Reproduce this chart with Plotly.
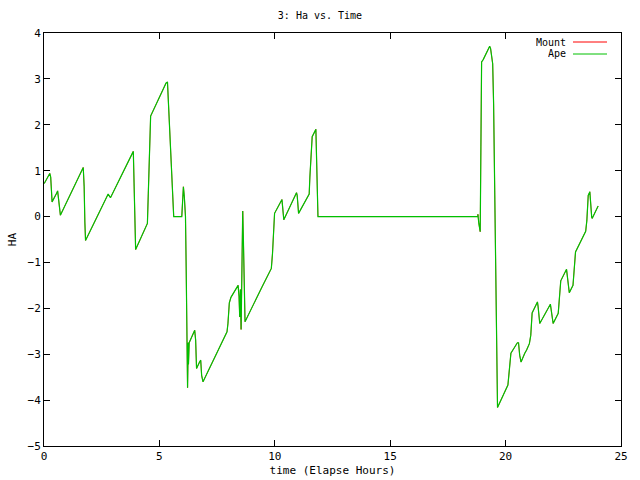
import plotly.graph_objects as go

time_hours = [0.01, 0.25, 0.29, 0.32, 0.35, 0.54, 0.59, 0.62, 0.68, 0.71, 1.70, 1.74, 1.77, 1.80,
              2.78, 2.88, 3.87, 3.90, 3.94, 3.97, 4.48, 4.52, 4.58, 4.62, 5.29, 5.35, 5.41, 5.46,
              5.52, 5.58, 5.62, 5.97, 6.01, 6.04, 6.08, 6.13, 6.16, 6.19, 6.22, 6.25, 6.26, 6.29,
              6.53, 6.57, 6.61, 6.74, 6.79, 6.83, 6.89, 7.93, 7.97, 8.03, 8.10, 8.41, 8.45, 8.48,
              8.51, 8.54, 8.58, 8.61, 8.64, 8.68, 8.71, 9.45, 9.85, 9.90, 9.96, 9.99, 10.31, 10.39,
              10.94, 10.97, 11.03, 11.49, 11.52, 11.58, 11.62, 11.78, 11.81, 11.84, 11.87, 18.80,
              18.80, 18.84, 18.87, 18.90, 18.93, 18.96, 19.03, 19.31, 19.35, 19.44, 19.48, 19.52,
              19.57, 19.61, 19.65, 20.10, 20.14, 20.19, 20.23, 20.51, 20.56, 20.61, 20.67, 20.83,
              20.91, 21.03, 21.09, 21.15, 21.38, 21.41, 21.48, 21.94, 21.98, 22.06, 22.28, 22.35,
              22.39, 22.64, 22.71, 22.76, 22.92, 22.94, 22.99, 23.03, 23.47, 23.52, 23.58, 23.65,
              23.73, 23.75, 24.01]

ha_ape = [0.72, 0.94, 0.86, 0.50, 0.32, 0.50, 0.56, 0.43, 0.15, 0.03, 1.07, 0.65, -0.12, -0.52,
          0.49, 0.41, 1.42, 0.86, -0.19, -0.72, -0.15, 0.46, 1.59, 2.19, 2.91, 2.93, 2.28, 1.70,
          0.90, 0.36, 0.00, 0.00, 0.46, 0.65, 0.43, 0.00, -1.10, -2.84, -3.73, -2.75, -3.22, -2.75,
          -2.48, -2.69, -3.31, -3.17, -3.13, -3.46, -3.60, -2.51, -2.33, -1.88, -1.76, -1.50, -1.74, -2.19,
          -1.59, -2.46, -0.53, 0.12, -0.52, -1.71, -2.29, -1.53, -1.13, -0.81, -0.26, 0.07, 0.37, -0.07,
          0.52, 0.46, 0.07, 0.49, 0.86, 1.43, 1.74, 1.90, 1.43, 0.46, 0.00, 0.00,
          0.05, -0.15, -0.23, -0.33, 1.52, 3.37, 3.42, 3.71, 3.66, 3.33, 2.46, 0.86,
          -1.02, -3.09, -4.16, -3.67, -3.49, -3.20, -2.98, -2.75, -2.75, -3.02, -3.17, -2.98,
          -2.91, -2.77, -2.59, -2.10, -1.86, -1.97, -2.33, -1.91, -2.04, -2.33, -2.11, -1.60,
          -1.40, -1.15, -1.53, -1.66, -1.50, -1.33, -0.97, -0.77, -0.32, -0.09, 0.46, 0.54,
          -0.01, -0.04, 0.23]

# Mount track coincides with Ape track (drawn underneath)
ha_mount = list(ha_ape)

x_ticks = [0, 5, 10, 15, 20, 25]
y_ticks = [-5, -4, -3, -2, -1, 0, 1, 2, 3, 4]

FONT = "DejaVu Sans Mono"
RED = "#ff0000"
GREEN = "#00c000"

fig = go.Figure()
fig.add_trace(go.Scatter(x=time_hours, y=ha_mount, mode="lines", name="Mount",
                         line=dict(color=RED, width=0.7), showlegend=False))
fig.add_trace(go.Scatter(x=time_hours, y=ha_ape, mode="lines", name="Ape",
                         line=dict(color=GREEN, width=1.2), showlegend=False))

axis_common = dict(showgrid=False, zeroline=False, showline=True, linecolor="black",
                   linewidth=1, mirror="allticks", ticks="inside", ticklen=6,
                   tickcolor="black", automargin=False,
                   tickfont=dict(family=FONT, size=11, color="black"))

L, R, T, B = 44, 19, 33, 34

fig.update_layout(
    width=640, height=480,
    paper_bgcolor="white", plot_bgcolor="white",
    margin=dict(l=L, r=R, t=T, b=B, autoexpand=False),
    title=dict(text="3: Ha vs. Time", x=0.5, xanchor="center", y=1 - 15 / 480,
               yanchor="middle", font=dict(family=FONT, size=10, color="black")),
    xaxis=dict(range=[0, 25], tickvals=x_ticks,
               title=dict(text="time (Elapse Hours)", font=dict(family=FONT, size=11, color="black"),
                          standoff=4),
               **axis_common),
    yaxis=dict(range=[-5, 4], tickvals=y_ticks,
               title=dict(text="HA", font=dict(family=FONT, size=11, color="black"), standoff=8),
               **axis_common),
    showlegend=False,
)

# legend (gnuplot style: label then sample line)
legend_items = [("Mount", RED, 42), ("Ape", GREEN, 54)]
pw = 640 - L - R
ph = 480 - T - B
for label, color, ypx in legend_items:
    yp = 1 - (ypx - T) / ph
    xr = (567 - L) / pw
    x0 = (573 - L) / pw
    x1 = (607 - L) / pw
    fig.add_annotation(x=xr, y=yp, xref="paper", yref="paper", text=label, showarrow=False,
                       xanchor="right", yanchor="middle", borderpad=0, height=11,
                       font=dict(family=FONT, size=10, color="black"))
    fig.add_shape(type="line", xref="paper", yref="paper", x0=x0, x1=x1, y0=yp, y1=yp,
                  line=dict(color=color, width=1))

fig.write_html("out.html", config={"displayModeBar": False},
               post_script="document.body.style.margin='0';document.body.style.padding='0';")
